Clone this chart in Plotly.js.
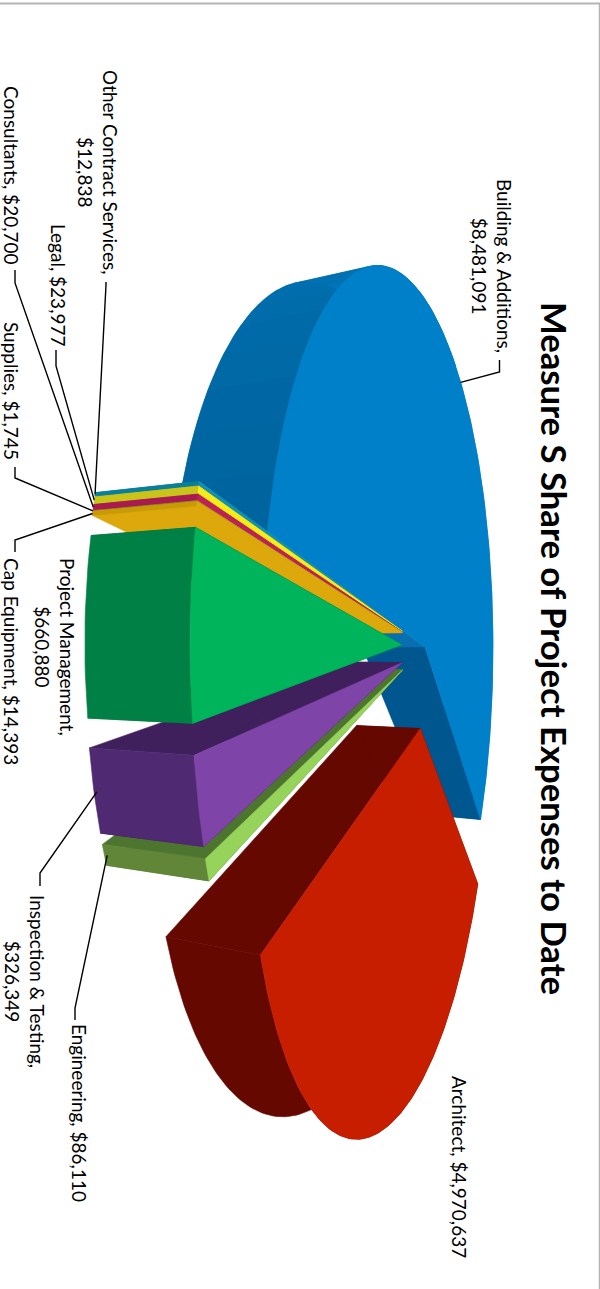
<!DOCTYPE html>
<html>
<head>
<meta charset="utf-8">
<script src="https://cdn.plot.ly/plotly-3.0.1.min.js"></script>
<style>html,body{margin:0;padding:0;background:#fff}#chart{width:600px;height:1289px}</style>
</head>
<body>
<div id="chart"></div>
<script>
// Project expense categories, in order round the pie
const categories = ["Project Management","Inspection & Testing","Engineering","Architect","Building & Additions","Other Contract Services","Legal","Consultants","Supplies","Cap Equipment"];
const amounts = [660880,326349,86110,4970637,8481091,12838,23977,20700,1745,14393];
const explode = [0.22,0.22,0.22,0.235,0,0.22,0.22,0.22,0.22,0.22];
const topColors = ["#00b45c","#7f44a8","#96d35a","#c81e00","#0080c8","#1192b5","#f6ec1a","#c0205a","#a89a18","#dca80c"];
const sideColors = ["#008044","#4f2a72","#618638","#640800","#0072b2","#0a7f9a","#c9c41a","#a81a50","#948818","#c99a08"];
const cutColors = ["#006a38","#3f1f5c","#4e7530","#640800","#00568f","#0a7f9a","#c9c41a","#a81a50","#948818","#dca80c"];
const paintOrder = [4,3,2,1,5,6,7,8,9,0];

// Perspective model of the tilted, turned pie
const view = {cx:425, cy:647, D:2.43, k:233, m:158, f:845, c:0.09, startDeg:-9.65};
function project(u, v, h) {
  const w = view.D - u + view.c * h;
  return [view.cx - (view.k * u + view.m * h) / w, view.cy + view.f * v / w];
}
const total = amounts.reduce((a, b) => a + b, 0);
const rad = Math.PI / 180;
let cursor = view.startDeg;
const slices = amounts.map((a, i) => {
  const sweep = a / total * 360;
  const s = {i, a0: cursor, a1: cursor + sweep, mid: cursor + sweep / 2, e: explode[i]};
  cursor += sweep;
  return s;
});
function pt(s, deg, r, h) {
  return project(s.e * Math.cos(s.mid * rad) + r * Math.cos(deg * rad), s.e * Math.sin(s.mid * rad) + r * Math.sin(deg * rad), h);
}
function arc(s, a0, a1, h) {
  const n = Math.max(2, Math.ceil(Math.abs(a1 - a0)));
  const out = [];
  for (let j = 0; j <= n; j++) out.push(pt(s, a0 + (a1 - a0) * j / n, 1, h));
  return out;
}
function face(points, color, name) {
  const closed = points.concat([points[0]]);
  return {type:"scatter", mode:"lines", x:closed.map(p => p[0]), y:closed.map(p => p[1]), fill:"toself", fillcolor:color,
    line:{color:color, width:0.6}, showlegend:false, hoverinfo:"text", text:name};
}
function mix(a, b, t) {
  const pa = [1,3,5].map(o => parseInt(a.substr(o,2),16)), pb = [1,3,5].map(o => parseInt(b.substr(o,2),16));
  return "rgb(" + pa.map((v,i) => Math.round(v + (pb[i]-v)*t)).join(",") + ")";
}
const wall = (s, a0, a1) => arc(s, a0, a1, 0).concat(arc(s, a0, a1, 1).reverse());
const cut = (s, a) => [pt(s, a, 0, 0), pt(s, a, 1, 0), pt(s, a, 1, 1), pt(s, a, 0, 1)];

const traces = [];
paintOrder.forEach(idx => {
  const s = slices[idx], name = categories[idx];
  const cuts = [face(cut(s, s.a0), cutColors[idx], name), face(cut(s, s.a1), idx === 4 ? "#0a6fb0" : cutColors[idx], name)];
  const walls = [face(wall(s, s.a0, s.a1), sideColors[idx], name)];
  if (idx === 4) {
    // soft shade along the large slice's visible rim
    const bands = 16, span = 100;
    for (let b = 0; b < bands; b++) {
      const a1 = s.a1 - span * b / bands, a0 = s.a1 - span * (b + 1) / bands;
      walls.push(face(wall(s, a0, a1), mix("#00649f", "#007cc1", b / (bands - 1)), name));
    }
  }
  // the reflex slice shows its cut walls in front of its far rim; the others show them behind
  if (idx === 4) traces.push(...walls, ...cuts); else traces.push(...cuts, ...walls);
  traces.push(face([pt(s, 0, 0, 0)].concat(arc(s, s.a0, s.a1, 0)), topColors[idx], name));
});

// Labels sit beside the pie, turned a quarter with the rest of the chart
const labelText = ["Project Management,<br>$660,880","Inspection & Testing,<br>$326,349","Engineering, $86,110","Architect, $4,970,637","Building & Additions,<br>$8,481,091","Other Contract Services,<br>$12,838","Legal, $23,977","Consultants, $20,700","Supplies, $1,745","Cap Equipment, $14,393"];
const labelX = [55,25,80,460,492,98,59,12,12,12];
const labelY = [647,981,1113,1167,266,172,285,175,391,661];

// Leader lines: elbow points, then where on the slice each one lands
const leaderElbows = [
  [4, [[499.5,360],[499.5,372]]],
  [5, [[106,282],[106,285]]],
  [6, [[56,350],[56,366]]],
  [7, [[15,270],[15,283]]],
  [8, [[15,467],[15,478]]],
  [9, [[15,552],[15,540]]],
  [1, [[40,886],[40,873]]],
  [2, [[75,1020],[75,1008]]]
];
const leaders = leaderElbows.map(([idx, elbows]) => {
  const s = slices[idx];
  const end = idx === 4 ? pt(s, s.mid, 1, 0) : pt(s, s.mid, 1, idx === 1 || idx === 2 ? 0.97 : 1);
  const pts = elbows.concat([end]);
  return {type:"scatter", mode:"lines", x:pts.map(p => p[0]), y:pts.map(p => p[1]), line:{color:"#000", width:1.4}, showlegend:false, hoverinfo:"skip"};
});

const font = "Lato, Carlito, sans-serif";
const annotations = labelText.map((t, i) => ({xref:"x", yref:"y", x:labelX[i], y:labelY[i], text:t, textangle:90, showarrow:false,
  align:"center", xanchor:"center", yanchor:"middle", font:{family:font, size:19, color:"#000"}}));
annotations.push({xref:"x", yref:"y", x:555, y:648, text:"<b>Measure S Share of Project Expenses to Date</b>", textangle:90, showarrow:false,
  xanchor:"center", yanchor:"middle", font:{family:font, size:34.7, color:"#000"}});

const layout = {
  width:600, height:1289, margin:{l:0,r:0,t:0,b:0}, paper_bgcolor:"#fff", plot_bgcolor:"#fff", showlegend:false,
  xaxis:{range:[0,600], visible:false, fixedrange:true},
  yaxis:{range:[1289,0], visible:false, fixedrange:true},
  annotations,
  shapes:[
    {type:"line", xref:"x", yref:"y", x0:0, x1:600, y0:3.5, y1:3.5, line:{color:"#b4b4b4", width:2}},
    {type:"line", xref:"x", yref:"y", x0:599.5, x1:599.5, y0:3, y1:1289, line:{color:"#b4b4b4", width:1.5}}
  ]
};
Plotly.newPlot("chart", traces.concat(leaders), layout, {displayModeBar:false, staticPlot:true});
</script>
</body>
</html>
